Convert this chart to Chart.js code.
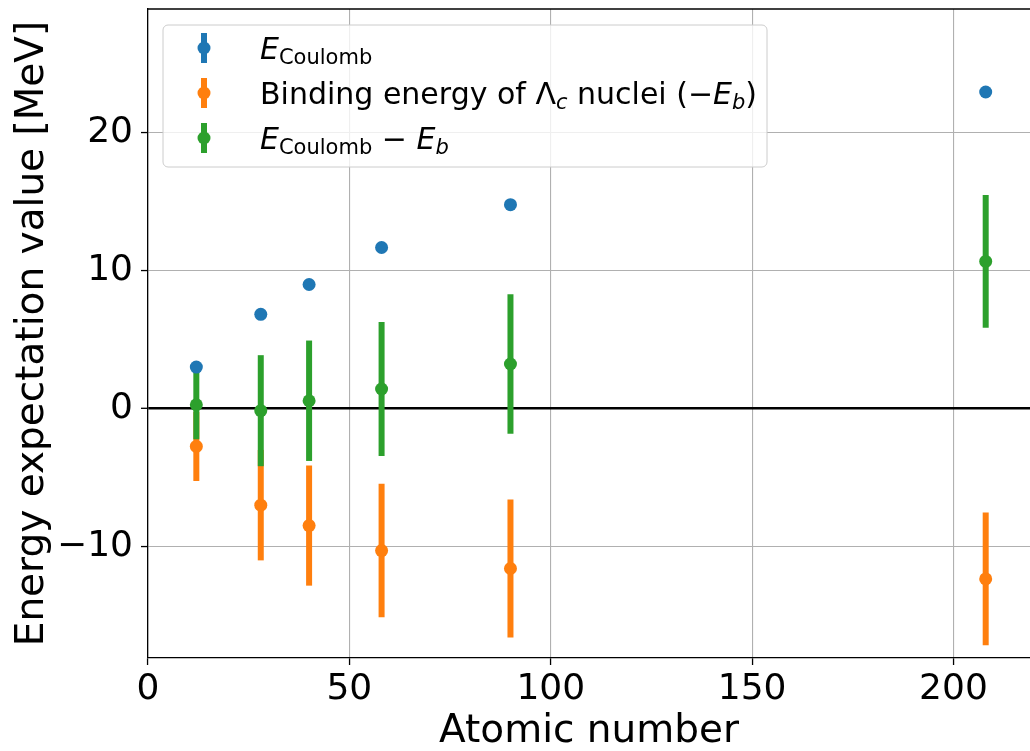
<!DOCTYPE html>
<html>
<head>
<meta charset="utf-8">
<script src="https://cdn.jsdelivr.net/npm/chart.js@4.4.1/dist/chart.umd.min.js"></script>
<style>
  html, body { margin: 0; padding: 0; background: #fff; }
  #wrap { width: 1030px; height: 751px; position: relative; }
</style>
</head>
<body>
<div id="wrap"><canvas id="energyChart"></canvas></div>
<script>
// nuclei (x positions)
const atomicNumbers = [12, 28, 40, 58, 90, 208];
// Coulomb energy expectation values [MeV]
const coulombEnergy = [3.02, 6.84, 9.0, 11.68, 14.78, 22.94];
const coulombErr = [0, 0, 0, 0, 0, 0];
// binding energy of Lambda_c nuclei (-E_b) with uncertainty
const bindingEnergy = [-2.73, -6.98, -8.46, -10.27, -11.57, -12.32];
const bindingErr = [2.5, 4.0, 4.35, 4.83, 5.0, 4.8];
// E_Coulomb - E_b with uncertainty
const netEnergy = [0.29, -0.14, 0.58, 1.43, 3.24, 10.67];
const netErr = [2.5, 4.02, 4.36, 4.85, 5.05, 4.81];

const xTicks = [0, 50, 100, 150, 200];
const yTicks = [-10, 0, 10, 20];

const BLUE = '#1f77b4', ORANGE = '#ff7f0e', GREEN = '#2ca02c';
const FONT = "'DejaVu Sans', sans-serif";

// legend labels, split into runs for italic / subscript pieces
const legendRows = [
    { color: BLUE, parts: [{ t: 'E', it: true }, { t: 'Coulomb', sub: true }] },
    { color: ORANGE, parts: [{ t: 'Binding energy of ' }, { t: 'Λ' }, { t: 'c', it: true, sub: true },
        { t: ' nuclei (' }, { t: '−' }, { t: 'E', it: true }, { t: 'b', it: true, sub: true }, { t: ')' }] },
    { color: GREEN, parts: [{ t: 'E', it: true }, { t: 'Coulomb', sub: true }, { t: ' − ' },
        { t: 'E', it: true }, { t: 'b', it: true, sub: true }] }
];

const points = ys => atomicNumbers.map((x, i) => ({ x: x, y: ys[i] }));

// vertical error bars, drawn under the markers
const errorBars = {
    id: 'errorBars',
    beforeDatasetsDraw(chart) {
        const { ctx, chartArea, scales: { x, y } } = chart;
        ctx.save();
        ctx.beginPath();
        ctx.rect(chartArea.left, chartArea.top, chartArea.right - chartArea.left, chartArea.bottom - chartArea.top);
        ctx.clip();
        chart.data.datasets.forEach(ds => {
            ctx.strokeStyle = ds.backgroundColor;
            ctx.lineWidth = 6;
            ds.data.forEach((p, i) => {
                const e = ds.yErr[i];
                if (!e) return;
                const px = x.getPixelForValue(p.x);
                ctx.beginPath();
                ctx.moveTo(px, y.getPixelForValue(p.y - e));
                ctx.lineTo(px, y.getPixelForValue(p.y + e));
                ctx.stroke();
            });
        });
        ctx.restore();
    }
};

// top spine + legend box
const frameAndLegend = {
    id: 'frameAndLegend',
    afterDraw(chart) {
        const { ctx, chartArea } = chart;
        ctx.save();
        ctx.strokeStyle = '#000';
        ctx.lineWidth = 1.3;
        ctx.beginPath();
        ctx.moveTo(chartArea.left, chartArea.top);
        ctx.lineTo(chartArea.right, chartArea.top);
        ctx.stroke();

        const bx = 163, by = 25, bw = 604, bh = 142, r = 5;
        ctx.beginPath();
        ctx.roundRect(bx, by, bw, bh, r);
        ctx.fillStyle = 'rgba(255,255,255,0.8)';
        ctx.fill();
        ctx.strokeStyle = '#cccccc';
        ctx.lineWidth = 1;
        ctx.stroke();

        const size = 30;
        legendRows.forEach((row, k) => {
            const cy = 48 + k * 45;
            // errorbar handle
            ctx.strokeStyle = row.color;
            ctx.lineWidth = 6;
            ctx.beginPath();
            ctx.moveTo(204, cy - 15);
            ctx.lineTo(204, cy + 15);
            ctx.stroke();
            ctx.fillStyle = row.color;
            ctx.beginPath();
            ctx.arc(204, cy, 6.5, 0, Math.PI * 2);
            ctx.fill();

            ctx.fillStyle = '#000';
            ctx.textBaseline = 'alphabetic';
            let tx = 260;
            const base = cy + 11;
            row.parts.forEach(p => {
                const fs = p.sub ? size * 0.7 : size;
                ctx.font = (p.it ? 'italic ' : '') + fs + 'px ' + FONT;
                ctx.fillText(p.t, tx, p.sub ? base + 5 : base);
                tx += ctx.measureText(p.t).width;
            });
        });
        ctx.restore();
    }
};

const minusLabel = v => (v < 0 ? '−' + Math.abs(v) : String(v));

new Chart(document.getElementById('energyChart').getContext('2d'), {
    type: 'scatter',
    data: {
        datasets: [
            { label: 'E_Coulomb', data: points(coulombEnergy), yErr: coulombErr, backgroundColor: BLUE, borderColor: BLUE },
            { label: 'Binding energy (-E_b)', data: points(bindingEnergy), yErr: bindingErr, backgroundColor: ORANGE, borderColor: ORANGE },
            { label: 'E_Coulomb - E_b', data: points(netEnergy), yErr: netErr, backgroundColor: GREEN, borderColor: GREEN }
        ]
    },
    options: {
        responsive: true,
        maintainAspectRatio: false,
        animation: false,
        devicePixelRatio: 1,
        layout: { autoPadding: false, padding: { top: 9, right: 0, left: 0, bottom: 0 } },
        elements: { point: { radius: 6.5, hoverRadius: 6.5, borderWidth: 0 } },
        plugins: { legend: { display: false }, tooltip: { enabled: false } },
        scales: {
            x: {
                type: 'linear',
                min: 0,
                max: 219,
                afterBuildTicks: s => { s.ticks = xTicks.map(v => ({ value: v })); },
                afterFit: s => { s.height = 93; s.paddingLeft = 0; s.paddingRight = 0; },
                grid: { color: '#b0b0b0', lineWidth: 1.1, tickColor: '#000', tickLength: 7, tickWidth: 1.3 },
                border: { color: '#000', width: 1.3 },
                ticks: { color: '#000', font: { family: FONT, size: 36 }, padding: 3, maxRotation: 0, callback: minusLabel },
                title: { display: true, text: 'Atomic number', color: '#000', font: { family: FONT, size: 39 }, padding: { top: 0, bottom: -4 } }
            },
            y: {
                type: 'linear',
                min: -18.05,
                max: 28.95,
                afterBuildTicks: s => { s.ticks = yTicks.map(v => ({ value: v })); },
                afterFit: s => { s.width = 148; s.paddingTop = 0; s.paddingBottom = 0; },
                grid: {
                    color: c => (c.tick && c.tick.value === 0 ? '#000' : '#b0b0b0'),
                    lineWidth: c => (c.tick && c.tick.value === 0 ? 2.6 : 1.1),
                    tickColor: '#000', tickLength: 7, tickWidth: 1.3
                },
                border: { color: '#000', width: 1.3 },
                ticks: { color: '#000', font: { family: FONT, size: 36 }, padding: 8, callback: minusLabel },
                title: { display: true, text: 'Energy expectation value [MeV]', color: '#000', font: { family: FONT, size: 39 }, padding: { top: 9, bottom: 0 } }
            }
        }
    },
    plugins: [errorBars, frameAndLegend]
});
</script>
</body>
</html>
